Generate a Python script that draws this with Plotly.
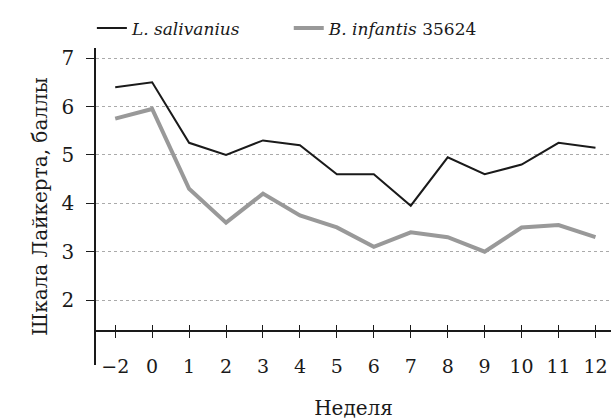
import plotly.graph_objects as go

weeks = ["−2", "0", "1", "2", "3", "4", "5", "6", "7", "8", "9", "10", "11", "12"]
l_salivarius = [6.4, 6.5, 5.25, 5.0, 5.3, 5.2, 4.6, 4.6, 3.95, 4.95, 4.6, 4.8, 5.25, 5.15]
b_infantis = [5.75, 5.95, 4.3, 3.6, 4.2, 3.75, 3.5, 3.1, 3.4, 3.3, 3.0, 3.5, 3.55, 3.3]
y_ticks = [2, 3, 4, 5, 6, 7]

FONT = "DejaVu Serif"

fig = go.Figure()
fig.add_trace(go.Scatter(x=weeks, y=l_salivarius, mode="lines",
                         name="<i>L. salivanius</i>        ",
                         line=dict(color="#1a1a1a", width=2)))
fig.add_trace(go.Scatter(x=weeks, y=b_infantis, mode="lines",
                         name="<i>B. infantis</i> 35624",
                         line=dict(color="#999999", width=4)))
# invisible trace to carry the second x-axis (inward ticks)
fig.add_trace(go.Scatter(x=weeks, y=[None]*len(weeks), xaxis="x2",
                         showlegend=False, hoverinfo="skip"))

fig.update_layout(
    width=611, height=420,
    margin=dict(l=96, r=0, t=48, b=55),
    paper_bgcolor="white", plot_bgcolor="white",
    font=dict(family=FONT, size=19, color="#1a1a1a"),
    showlegend=True,
    legend=dict(orientation="h", x=-0.008, xanchor="left", y=1.005, yanchor="bottom",
                font=dict(family=FONT, size=17), itemwidth=30),
    xaxis=dict(type="category", range=[-0.52, 13.42], anchor="free", position=0.107,
               automargin=False,
               showline=True, linecolor="#1a1a1a", linewidth=1.5,
               ticks="outside", ticklen=6, tickwidth=1.2, tickcolor="#1a1a1a",
               showgrid=False, zeroline=False, tickfont=dict(size=19),
               ticklabelstandoff=12,
               title=dict(text="Неделя", standoff=25, font=dict(size=20))),
    xaxis2=dict(type="category", range=[-0.52, 13.42], overlaying="x", anchor="free",
                position=0.107, ticks="inside", ticklen=6, tickwidth=1.2,
                automargin=False,
                tickcolor="#1a1a1a", showticklabels=False, showgrid=False,
                zeroline=False, showline=False),
    yaxis=dict(range=[0.657, 7.21], tickvals=y_ticks, ticks="outside", ticklen=8,
               automargin=False,
               tickwidth=1.2, tickcolor="#1a1a1a", tickfont=dict(size=20),
               showline=True, linecolor="#1a1a1a", linewidth=1.5,
               showgrid=True, gridcolor="#aaaaaa", gridwidth=1, griddash="dot",
               zeroline=False, ticklabelstandoff=8,
               title=dict(text="Шкала Лайкерта, баллы", standoff=9, font=dict(size=20))),
)

fig.write_html("out.html", config={"displayModeBar": False},
               post_script="document.body.style.margin='0';")
